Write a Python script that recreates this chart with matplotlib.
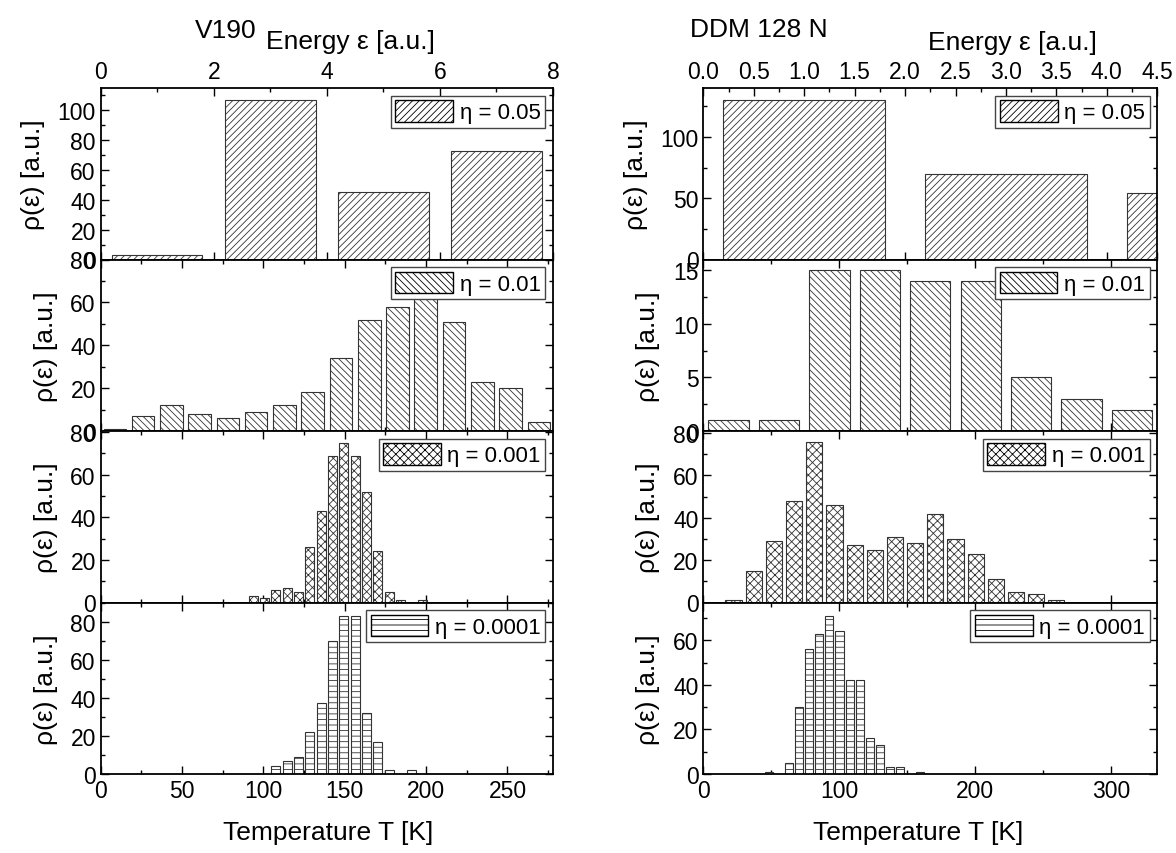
import matplotlib as mpl

mpl.use("Agg")
import matplotlib.pyplot as plt
from matplotlib.patches import Patch
from matplotlib.ticker import MultipleLocator

plt.rcParams["font.family"] = ["Liberation Sans", "DejaVu Sans"]
plt.rcParams["hatch.linewidth"] = 0.6

# energy scale of the top axis -> temperature of the bottom axis
left_emax, left_tmax = 8.0, 278.0
right_emax, right_tmax = 4.5, 334.0

etas = ["0.05", "0.01", "0.001", "0.0001"]
hatches = ["/////", "\\\\\\\\\\", "xxxx", "---"]

# V190: bin centres in energy units and heights
v190_e1 = [1, 3, 5, 7]
v190_r1 = [3, 107, 45, 73]
v190_e2 = [0.25, 0.75, 1.25, 1.75, 2.25, 2.75, 3.25, 3.75,
           4.25, 4.75, 5.25, 5.75, 6.25, 6.75, 7.25, 7.75]
v190_r2 = [1, 7, 12, 8, 6, 9, 12, 18, 34, 52, 58, 68, 51, 23, 20, 4]
v190_e3 = [2.7, 2.9, 3.1, 3.3, 3.5, 3.7, 3.9, 4.1, 4.3, 4.5, 4.7, 4.9, 5.1, 5.3, 5.7]
v190_r3 = [3, 2, 6, 7, 5, 26, 43, 69, 75, 69, 52, 24, 5, 1, 1]
v190_e4 = [3.1, 3.3, 3.5, 3.7, 3.9, 4.1, 4.3, 4.5, 4.7, 4.9, 5.1, 5.5]
v190_r4 = [4, 7, 9, 22, 37, 70, 83, 83, 32, 17, 2, 2]

# DDM 128 N
ddm_e1 = [1, 3, 5]
ddm_r1 = [130, 70, 54]
ddm_e2 = [0.25, 0.75, 1.25, 1.75, 2.25, 2.75, 3.25, 3.75, 4.25]
ddm_r2 = [1, 1, 15, 15, 14, 14, 5, 3, 2]
ddm_e3 = [0.3, 0.5, 0.7, 0.9, 1.1, 1.3, 1.5, 1.7, 1.9, 2.1, 2.3, 2.5, 2.7,
          2.9, 3.1, 3.3, 3.5]
ddm_r3 = [1, 15, 29, 48, 76, 46, 27, 25, 31, 28, 42, 30, 23, 11, 5, 4, 1]
ddm_e4 = [0.65, 0.85, 0.95, 1.05, 1.15, 1.25, 1.35, 1.45, 1.55, 1.65, 1.75,
          1.85, 1.95, 2.15]
ddm_r4 = [1, 5, 30, 56, 63, 71, 64, 42, 42, 16, 13, 3, 3, 1]

columns = [
    {
        "x0": 100.7, "w": 452.3, "emax": left_emax, "tmax": left_tmax,
        "e_major": 2, "e_minor": 1, "t_major": 50, "t_minor": 25,
        "centres": [v190_e1, v190_e2, v190_e3, v190_e4],
        "heights": [v190_r1, v190_r2, v190_r3, v190_r4],
        "widths": [1.6, 0.4, 0.16, 0.16],
        "ylims": [115, 80, 80.5, 90],
        "ymajor": [20, 20, 20, 20],
    },
    {
        "x0": 703.3, "w": 454.0, "emax": right_emax, "tmax": right_tmax,
        "e_major": 0.5, "e_minor": 0.25, "t_major": 100, "t_minor": 50,
        "centres": [ddm_e1, ddm_e2, ddm_e3, ddm_e4],
        "heights": [ddm_r1, ddm_r2, ddm_r3, ddm_r4],
        "widths": [1.6, 0.4, 0.16, 0.08],
        "ylims": [140, 16, 81, 77],
        "ymajor": [50, 5, 20, 20],
    },
]

W, H = 1176, 854
fig = plt.figure(figsize=(W / 100, H / 100), dpi=100)

top_px, bot_px = 89, 775
ph = (bot_px - top_px) / 4

for col in columns:
    k = col["tmax"] / col["emax"]
    for i in range(4):
        y0 = 1 - (top_px + ph * (i + 1)) / H
        ax = fig.add_axes([col["x0"] / W, y0, col["w"] / W, ph / H])
        w = col["widths"][i]
        if i == 0:
            xs = col["centres"][i]
            ax.set_xlim(0, col["emax"])
            ax.xaxis.set_major_locator(MultipleLocator(col["e_major"]))
            ax.xaxis.set_minor_locator(MultipleLocator(col["e_minor"]))
        else:
            xs = [e * k for e in col["centres"][i]]
            w = w * k
            ax.set_xlim(0, col["tmax"])
            ax.xaxis.set_major_locator(MultipleLocator(col["t_major"]))
            ax.xaxis.set_minor_locator(MultipleLocator(col["t_minor"]))
        ax.bar(xs, col["heights"][i], width=w, color="white",
               edgecolor="#333333", linewidth=0.8, hatch=hatches[i], zorder=2)
        ax.set_ylim(0, col["ylims"][i])
        ax.yaxis.set_major_locator(MultipleLocator(col["ymajor"][i]))
        ax.yaxis.set_minor_locator(MultipleLocator(col["ymajor"][i] / 2))
        ax.tick_params(which="both", direction="in", top=True, right=True,
                       labelsize=16.5, width=1.0)
        ax.tick_params(which="major", length=6)
        ax.tick_params(which="minor", length=3)
        ax.tick_params(labelbottom=(i == 3), labeltop=(i == 0))
        for sp in ax.spines.values():
            sp.set_linewidth(1.3)
        leg = ax.legend(
            handles=[Patch(facecolor="white", edgecolor="black", hatch=hatches[i])],
            labels=["\u03b7 = " + etas[i]],
            loc="upper right", fancybox=False, framealpha=1, edgecolor="#444444",
            fontsize=16, handlelength=2.6, handleheight=1.1, borderpad=0.2,
            handletextpad=0.3, borderaxespad=0.35,
        )
        leg.get_frame().set_linewidth(1.0)
        leg.set_zorder(5)
        ax.set_ylabel("\u03c1(\u03b5) [a.u.]", fontsize=19, labelpad=9)

fig.text(195 / W, 1 - 31 / H, "V190", fontsize=19, ha="left", va="center")
fig.text(690 / W, 1 - 30 / H, "DDM 128 N", fontsize=19, ha="left", va="center")
fig.text(350 / W, 1 - 42 / H, "Energy \u03b5 [a.u.]", fontsize=19, ha="center", va="center")
fig.text(1012 / W, 1 - 43 / H, "Energy \u03b5 [a.u.]", fontsize=19, ha="center", va="center")
fig.text(328 / W, 1 - 833 / H, "Temperature T [K]", fontsize=19, ha="center", va="center")
fig.text(918 / W, 1 - 833 / H, "Temperature T [K]", fontsize=19, ha="center", va="center")

fig.savefig("out.png", dpi=100)
